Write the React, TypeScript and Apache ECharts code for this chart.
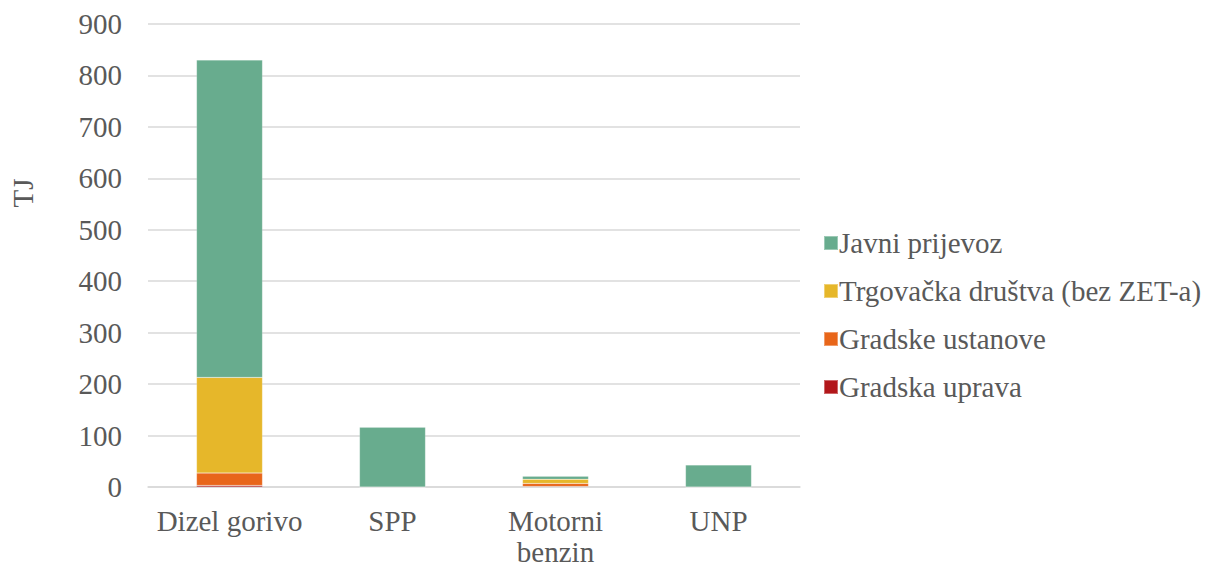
import React, { useEffect, useRef } from "react";
import * as echarts from "echarts";

const categories = ["Dizel gorivo", "SPP", "Motorni\nbenzin", "UNP"];
const gradskaUprava = [3, 0, 1, 0];
const gradskeUstanove = [24, 0, 6, 0];
const trgovackaDrustva = [186, 0, 8, 0];
const javniPrijevoz = [617, 116, 6, 43];
const yTicks = { min: 0, max: 900, interval: 100 };

const FONT = "'Liberation Serif', 'Times New Roman', serif";

export default function App() {
  const ref = useRef<HTMLDivElement>(null);
  useEffect(() => {
    if (!ref.current) return;
    const chart = echarts.init(ref.current, undefined, { renderer: "svg" });
    const mk = (name: string, data: number[], color: string) => ({
      name,
      type: "bar",
      stack: "total",
      data,
      barWidth: 66,
      itemStyle: { color, borderColor: "rgba(255,255,255,0.35)", borderWidth: 0.5 },
    });
    chart.setOption({
      animation: false,
      textStyle: { fontFamily: FONT },
      grid: { left: 148, right: 411, top: 24, bottom: 80, containLabel: false, outerBoundsMode: "none" },
      legend: {
        orient: "vertical",
        left: 818,
        top: 223,
        itemWidth: 14,
        itemHeight: 14,
        itemGap: 18,
        icon: "rect",
        data: ["Javni prijevoz", "Trgovačka društva (bez ZET-a)", "Gradske ustanove", "Gradska uprava"],
        textStyle: { fontFamily: FONT, fontSize: 29, lineHeight: 30, color: "#595959", padding: [0, 0, 0, -4] },
      },
      graphic: [
        {
          type: "text",
          x: 23,
          y: 193,
          rotation: Math.PI / 2,
          style: {
            text: "TJ",
            font: `29px ${FONT}`,
            fill: "#595959",
            align: "center",
            verticalAlign: "middle",
          },
        },
      ],
      xAxis: {
        type: "category",
        data: categories,
        axisLine: { lineStyle: { color: "#d9d9d9", width: 1.5 } },
        axisTick: { show: false },
        axisLabel: { interval: 0, fontFamily: FONT, fontSize: 29, color: "#595959", margin: 18, lineHeight: 31 },
      },
      yAxis: {
        type: "value",
        ...yTicks,
        axisLine: { show: false },
        axisTick: { show: false },
        splitLine: { lineStyle: { color: "#d9d9d9", width: 1.5 } },
        axisLabel: { fontFamily: FONT, fontSize: 29, color: "#595959", margin: 26 },
      },
      series: [
        mk("Gradska uprava", gradskaUprava, "#B2171A"),
        mk("Gradske ustanove", gradskeUstanove, "#E8661A"),
        mk("Trgovačka društva (bez ZET-a)", trgovackaDrustva, "#E6B72A"),
        mk("Javni prijevoz", javniPrijevoz, "#68AC8E"),
      ],
    });
    return () => chart.dispose();
  }, []);
  return <div ref={ref} style={{ width: 1211, height: 567, position: "absolute", left: 0, top: 0 }} />;
}
